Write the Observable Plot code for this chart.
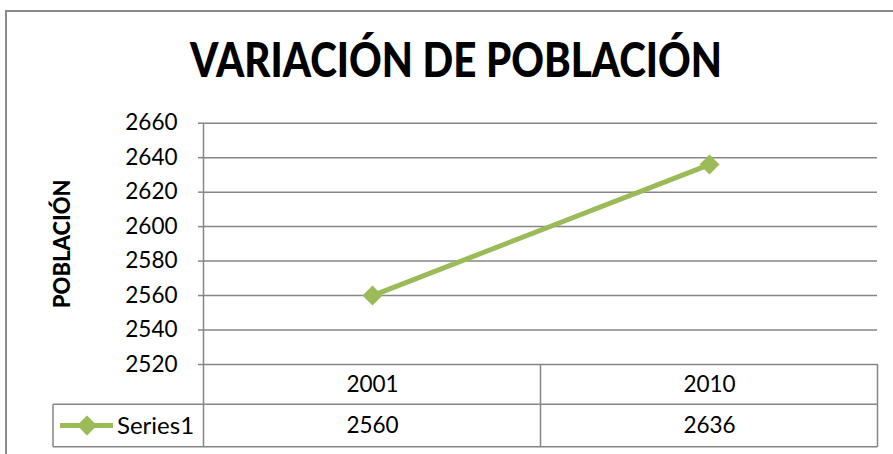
<!DOCTYPE html>
<html><head><meta charset="utf-8">
<script src="https://cdn.jsdelivr.net/npm/d3@7"></script>
<script src="https://cdn.jsdelivr.net/npm/@observablehq/plot@0.6"></script>
<style>
body{margin:0;background:#fff;}
#wrap{position:relative;width:893px;height:454px;overflow:hidden;background:#fff;}
#frame{position:absolute;left:5px;top:10px;width:1000px;height:1000px;border-top:2px solid #8a8a8a;border-left:2px solid #8a8a8a;}
#title{position:absolute;left:0;top:0;width:893px;height:100px;}
#title span{position:absolute;left:190px;top:35px;white-space:nowrap;font-family:Lato,"Open Sans",sans-serif;font-weight:900;font-size:48px;line-height:48px;color:#000;transform-origin:left top;}
#chart{position:absolute;left:0;top:100px;}
</style>
</head><body>
<div id="wrap"><div id="frame"></div><div id="title"><span id="t"></span></div><div id="chart"></div></div>
<script>
const titleText = "VARIACIÓN DE POBLACIÓN";
const yTitle = "POBLACIÓN";
const years = ["2001", "2010"];
const population = [2560, 2636];
const seriesName = "Series1";
const yTicks = [2520, 2540, 2560, 2580, 2600, 2620, 2640, 2660];

const data = years.map((y, i) => ({year: y, value: population[i]}));
const green = "#9BBB59";
const gray = "#868686";

const t = document.getElementById("t");
t.textContent = titleText;
const tw = t.getBoundingClientRect().width;
t.style.transform = `scaleX(${532 / tw})`;

const plot = Plot.plot({
  width: 893, height: 354,
  marginTop: 22.7, marginBottom: 90, marginLeft: 203, marginRight: 16,
  style: {fontFamily: "Lato, 'Open Sans', sans-serif", fontSize: "22px", color: "#000", background: "transparent"},
  x: {type: "point", domain: years, padding: 0.5, axis: null},
  y: {domain: [2520, 2660], axis: null},
  marks: [
    Plot.gridY(yTicks, {stroke: gray, strokeOpacity: 1, strokeWidth: 1.5}),
    Plot.axisY(yTicks, {tickSize: 5, tickPadding: 21, stroke: gray, strokeWidth: 1.5, fill: "#000", label: null, fontSize: 22.5, tickFormat: d => String(d)}),
    Plot.text([yTitle], {frameAnchor: "left", textAnchor: "middle", lineAnchor: "middle", dx: -141, rotate: -90, fontWeight: 900, fontSize: 22, fill: "#000"}),
    Plot.line(data, {x: "year", y: "value", stroke: green, strokeWidth: 5}),
    Plot.dot(data, {x: "year", y: "value", symbol: "square", r: 8, rotate: 45, fill: green, stroke: "none"}),
    Plot.text(data, {x: "year", text: "year", frameAnchor: "bottom", lineAnchor: "middle", dy: 20, fontSize: 22.5, fill: "#000"}),
    Plot.text(data, {x: "year", text: d => String(d.value), frameAnchor: "bottom", lineAnchor: "middle", dy: 61.5, fontSize: 22.5, fill: "#000"})
  ]
});
document.getElementById("chart").appendChild(plot);

// data table and axis line drawn with the plot's own scales
const xs = plot.scale("x"), ys = plot.scale("y");
const step = years.length > 1 ? xs.apply(years[1]) - xs.apply(years[0]) : 674;
const xL = xs.apply(years[0]) - step / 2;
const xR = xs.apply(years[years.length - 1]) + step / 2;
const yTop = ys.apply(2660), yBase = ys.apply(2520);
const r1 = yBase + 40.3, r2 = yBase + 82.7;
const legL = 53;
const svg = d3.select(plot);
const g = svg.append("g").attr("stroke", gray).attr("stroke-width", 1.5).attr("fill", "none");
g.append("line").attr("x1", xL).attr("x2", xL).attr("y1", yTop).attr("y2", r2);
years.forEach((y, i) => {
  const xe = xs.apply(y) + step / 2;
  g.append("line").attr("x1", xe).attr("x2", xe).attr("y1", yBase).attr("y2", r2);
});
g.append("line").attr("x1", legL).attr("x2", xR).attr("y1", r1).attr("y2", r1);
g.append("line").attr("x1", legL).attr("x2", xR).attr("y1", r2).attr("y2", r2);
g.append("line").attr("x1", legL).attr("x2", legL).attr("y1", r1).attr("y2", r2);
const ym = (r1 + r2) / 2;
svg.append("line").attr("x1", 60).attr("x2", 113).attr("y1", ym).attr("y2", ym).attr("stroke", green).attr("stroke-width", 5);
svg.append("path").attr("d", "M0,-10L10,0L0,10L-10,0Z").attr("fill", green)
  .attr("transform", `translate(87,${ym})`);
svg.append("text").attr("x", 117).attr("y", ym).attr("dy", "0.35em").attr("text-anchor", "start")
  .attr("font-size", 24).attr("fill", "#000").text(seriesName);
</script>
</body></html>
